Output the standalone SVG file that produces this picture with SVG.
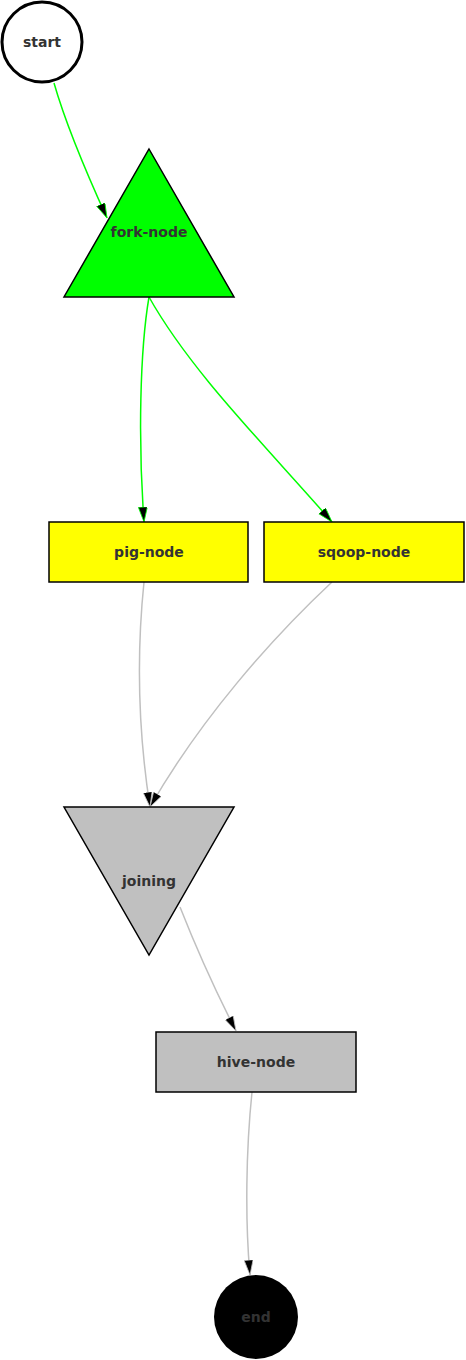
<svg xmlns="http://www.w3.org/2000/svg" width="466" height="1360" viewBox="0 0 466 1360">
<style>
text{font-family:"DejaVu Sans","Liberation Sans",sans-serif;font-size:14px;font-weight:bold;fill:#333;text-anchor:middle;dominant-baseline:central}
.e{fill:none;stroke-width:1.5}
.g{stroke:#00ff00}
.s{stroke:#c0c0c0}
.n{stroke:#000;stroke-width:1.5}
</style>
<defs>
<marker id="ag" markerUnits="userSpaceOnUse" markerWidth="16" markerHeight="10" refX="15" refY="4.5" orient="auto"><path d="M0,0 L15,4.5 L0,9 z" fill="#000" stroke="#00ff00" stroke-width="0.8"/></marker>
<marker id="as" markerUnits="userSpaceOnUse" markerWidth="16" markerHeight="10" refX="15" refY="4.5" orient="auto"><path d="M0,0 L15,4.5 L0,9 z" fill="#000" stroke="#c0c0c0" stroke-width="0.8"/></marker>
</defs>
<g id="edges">
<path class="e g" d="M54,83 C64,118 86,172 107,218" marker-end="url(#ag)"/>
<path class="e g" d="M149,297 C140,350 138,440 144,522" marker-end="url(#ag)"/>
<path class="e g" d="M149,297 C190,370 260,440 332,522" marker-end="url(#ag)"/>
<path class="e s" d="M144,582 C137,650 138,730 150,807" marker-end="url(#as)"/>
<path class="e s" d="M332,582 C270,640 200,720 150,807" marker-end="url(#as)"/>
<path class="e s" d="M180,907 C195,945 215,990 236,1031" marker-end="url(#as)"/>
<path class="e s" d="M252,1092 C246,1150 245,1220 250,1275" marker-end="url(#as)"/>
</g>
<g id="start"><circle cx="42" cy="42" r="40" fill="#fff" stroke="#000" stroke-width="3"/><text x="42" y="42">start</text></g>
<g id="fork-node"><polygon class="n" points="149,149 234,297 64,297" fill="#00ff00"/><text x="149" y="232">fork-node</text></g>
<g id="pig-node"><rect class="n" x="49" y="522" width="199" height="60" fill="#ffff00"/><text x="149" y="552">pig-node</text></g>
<g id="sqoop-node"><rect class="n" x="264" y="522" width="200" height="60" fill="#ffff00"/><text x="364" y="552">sqoop-node</text></g>
<g id="joining"><polygon class="n" points="64,807 234,807 149,955" fill="#c0c0c0"/><text x="149" y="881">joining</text></g>
<g id="hive-node"><rect class="n" x="156" y="1032" width="200" height="60" fill="#c0c0c0"/><text x="256" y="1062">hive-node</text></g>
<g id="end"><circle cx="256" cy="1317" r="42" fill="#000"/><text x="256" y="1317">end</text></g>
</svg>
